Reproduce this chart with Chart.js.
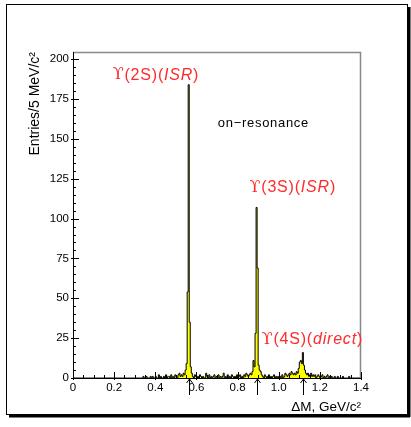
<!DOCTYPE html>
<html>
<head>
<meta charset="utf-8">
<script src="https://cdn.jsdelivr.net/npm/chart.js@4/dist/chart.umd.min.js"></script>
<style>
html, body { margin: 0; padding: 0; background: #fff; }
canvas { display: block; }
</style>
</head>
<body>
<canvas id="dm" width="411" height="427"></canvas>
<script>
// ΔM histogram, 5 MeV bins from 0 to 1.4 GeV
const binWidth = 0.005;
const counts = [
  0,0,0,0,0,0,0,0,0,0, 0,0,0,0,0,0,0,0,0,0,
  0,0,0,0,0,0,0,0,0,0, 0,0,0,0,0,0,0,0,0,0,
  0,0,0,0,0,0,0,0,0,0, 0,0,0,0,0,0,0,0,0,0,
  0,0,0,0,0,0,0,0,1,0, 0,1,0,0,0,1,0,1,0,0,
  1,0,0,2,0,1,0,0,1,0, 2,0,1,1,0,2,0,1,0,2,
  1,0,2,3,1,2,1,3,2,5, 9,54,184,35,7,3,1,0,2,1,
  0,1,0,2,1,0,1,0,0,3, 1,0,2,0,1,0,1,2,0,1,
  0,2,0,1,0,1,3,0,1,0, 2,0,1,0,2,1,0,1,0,2,
  0,1,2,0,1,0,2,1,3,2, 1,2,3,2,4,11,7,28,107,69,
  8,5,4,2,1,0,2,1,0,1, 2,0,1,0,1,2,0,1,0,1,
  0,1,0,2,0,1,3,2,1,2, 3,2,4,3,2,3,2,4,3,6,
  10,11,9,16,8,5,3,2,3,1, 2,3,1,2,1,2,0,1,2,1,
  0,1,2,0,1,0,1,2,0,1, 0,1,0,0,1,0,0,1,0,0,
  0,0,1,0,0,0,0,0,1,0, 0,0,0,0,0,0,0,0,0,0
];
const xRange = [0, 1.4];
const yRange = [0, 204.5];
const xStep = 0.2, xMinor = 0.05;
const yStep = 25, yMinor = 5;
// peak positions marked with arrows under the axis
const arrowAt = [0.5625, 0.8925, 1.1175];

const RED = '#ff2a2a';
const FONT = "'Liberation Sans', Arial, sans-serif";
const SYM = "'DejaVu Serif', serif";
const notes = [
  { x: 0.193, y: 190, color: RED, runs: [['ϒ', SYM], ['(2S)(', ''], ['ISR', 'italic'], [')', '']] },
  { x: 0.858, y: 119.5, color: RED, runs: [['ϒ', SYM], ['(3S)(', ''], ['ISR', 'italic'], [')', '']] },
  { x: 0.917, y: 24, color: RED, runs: [['ϒ', SYM], ['(4S)(', ''], ['direct', 'italic'], [')', '']] },
  { x: 0.704, y: 160, color: '#000', size: 13, spacing: 0.7, runs: [['on\u2212resonance', '']] }
];

// stepped line needs the low edge of every bin plus the closing edge
const points = counts.map((c, i) => ({ x: +(i * binWidth).toFixed(3), y: c }));
points.push({ x: xRange[1], y: counts[counts.length - 1] });

const decor = {
  id: 'decor',
  afterDatasetsDraw(chart) {
    const ctx = chart.ctx;
    const a = chart.chartArea;
    const xs = chart.scales.x, ys = chart.scales.y;
    ctx.save();

    // outer box with shadow
    ctx.strokeStyle = '#000';
    ctx.lineWidth = 1;
    ctx.strokeRect(6.5, 4.5, 401, 410);
    ctx.fillStyle = '#000';
    ctx.fillRect(408, 7, 2.5, 410);
    ctx.fillRect(9, 415, 401, 2.5);

    // frame: grey top/right, black axes
    ctx.strokeStyle = '#888';
    ctx.lineWidth = 1.5;
    ctx.beginPath();
    ctx.moveTo(a.left, a.top + 0.5);
    ctx.lineTo(a.right - 0.5, a.top + 0.5);
    ctx.lineTo(a.right - 0.5, a.bottom);
    ctx.stroke();
    ctx.strokeStyle = '#000';
    ctx.lineWidth = 1;
    ctx.beginPath();
    ctx.moveTo(a.left + 0.5, a.top);
    ctx.lineTo(a.left + 0.5, a.bottom + 0.5);
    ctx.lineTo(a.right, a.bottom + 0.5);
    ctx.stroke();

    // inward ticks
    ctx.beginPath();
    for (let v = yRange[0]; v <= yRange[1] + 1e-9; v += yMinor) {
      const y = Math.round(ys.getPixelForValue(v)) + 0.5;
      const len = Math.abs(v % yStep) < 1e-6 ? 6 : 3;
      ctx.moveTo(a.left - (len > 3 ? 2 : 0), y);
      ctx.lineTo(a.left + len, y);
    }
    for (let k = 0; k * xMinor <= xRange[1] + 1e-9; k++) {
      const v = k * xMinor;
      const x = Math.round(xs.getPixelForValue(v)) + 0.5;
      const len = k % Math.round(xStep / xMinor) === 0 ? 6 : 3;
      ctx.moveTo(x, a.bottom + (len > 3 ? 2 : 0));
      ctx.lineTo(x, a.bottom - len);
    }
    ctx.stroke();

    // arrows below the axis
    arrowAt.forEach(v => {
      const x = Math.round(xs.getPixelForValue(v)) + 0.5;
      ctx.beginPath();
      ctx.moveTo(x, a.bottom + 17);
      ctx.lineTo(x, a.bottom + 1);
      ctx.moveTo(x - 3, a.bottom + 5);
      ctx.lineTo(x, a.bottom + 1);
      ctx.lineTo(x + 3, a.bottom + 5);
      ctx.stroke();
    });

    // text annotations
    ctx.textBaseline = 'middle';
    ctx.textAlign = 'left';
    notes.forEach(n => {
      let x = xs.getPixelForValue(n.x);
      const y = ys.getPixelForValue(n.y);
      const size = n.size || 16;
      ctx.fillStyle = n.color;
      ctx.letterSpacing = (n.spacing != null ? n.spacing : 0.8) + 'px';
      n.runs.forEach(([t, style]) => {
        if (style === SYM) ctx.font = size + 'px ' + SYM;
        else ctx.font = (style ? style + ' ' : '') + size + 'px ' + FONT;
        ctx.fillText(t, x, y);
        x += ctx.measureText(t).width;
      });
    });
    ctx.restore();
  }
};

new Chart(document.getElementById('dm'), {
  type: 'line',
  data: {
    datasets: [{
      data: points,
      stepped: true,
      fill: 'origin',
      backgroundColor: '#ffff00',
      borderColor: '#000',
      borderWidth: 1,
      pointRadius: 0
    }]
  },
  options: {
    responsive: false,
    animation: false,
    events: [],
    layout: { padding: { top: 52, right: 50, left: 0, bottom: 0 } },
    plugins: { legend: { display: false }, tooltip: { enabled: false } },
    scales: {
      x: {
        type: 'linear',
        min: xRange[0], max: xRange[1],
        grid: { display: false, drawTicks: false },
        border: { display: false },
        ticks: { stepSize: xStep, padding: 3, color: '#000', font: { family: FONT, size: 11.5 }, maxRotation: 0 },
        title: { display: true, text: 'ΔM, GeV/c²', align: 'end', color: '#000',
                 font: { family: FONT, size: 13.5 }, padding: { top: 0, bottom: 12 } },
        afterFit(s) { s.height = 49; }
      },
      y: {
        min: yRange[0], max: yRange[1],
        grid: { display: false, drawTicks: false },
        border: { display: false },
        ticks: { stepSize: yStep, includeBounds: false, padding: 4, color: '#000', font: { family: FONT, size: 11.5 } },
        title: { display: true, text: 'Entries/5 MeV/c²', align: 'end', color: '#000',
                 font: { family: FONT, size: 14 }, padding: { top: 27, bottom: 0 } },
        afterFit(s) { s.width = 73; }
      }
    }
  },
  plugins: [decor]
});
</script>
</body>
</html>
